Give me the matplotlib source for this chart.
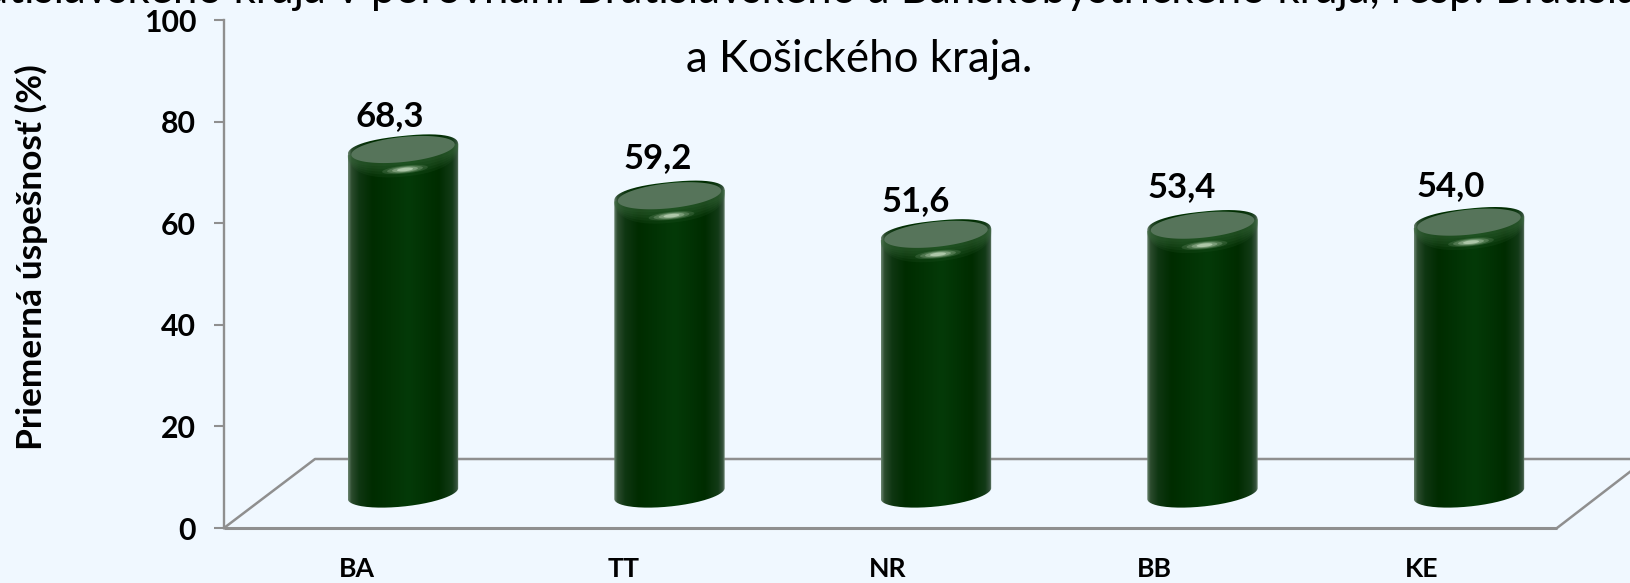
import numpy as np
import matplotlib

matplotlib.use("Agg")

import matplotlib.pyplot as plt
from matplotlib.colors import LinearSegmentedColormap
from matplotlib.patches import PathPatch, Polygon
from matplotlib.path import Path

plt.rcParams["font.family"] = ["Lato", "DejaVu Sans"]

categories = ["BA", "TT", "NR", "BB", "KE"]
values = [68.3, 59.2, 51.6, 53.4, 54.0]
value_labels = ["68,3", "59,2", "51,6", "53,4", "54,0"]
y_ticks = [0, 20, 40, 60, 80, 100]

title_top = "Bratislavského kraja v porovnaní Bratislavského a Banskobystrického kraja, resp. Bratislavského"
title_bottom = "a Košického kraja."
y_title = "Priemerná úspešnosť (%)"

W, H = 1631, 583
BG = "#f0f8ff"
GRID = "#8f8f8f"
LEFT, BOTTOM_PX, TOP_PX = 224, 528, 20
PX_CAT = 266.5       # px per category
PX_VAL = (BOTTOM_PX - TOP_PX) / 100
X0_PX = 403          # centre of first cylinder
FLOOR = 6.8          # cylinders stand this far back on the floor (value units)
TILT = np.radians(6)


def px_x(px):
    return (px - X0_PX) / PX_CAT


def px_y(px):
    return (BOTTOM_PX - px) / PX_VAL


def ellipse_pts(a, b, t, power=1.0):
    # tilted ellipse (power < 1 gives squarer shoulders), px offsets, y up
    x = a * np.sign(np.cos(t)) * np.abs(np.cos(t)) ** power
    y = b * np.sign(np.sin(t)) * np.abs(np.sin(t)) ** power
    return x * np.cos(TILT) - y * np.sin(TILT), x * np.sin(TILT) + y * np.cos(TILT)


def to_data(i, level, dx, dy):
    return i + dx / PX_CAT, level + dy / PX_VAL


side_cmap = LinearSegmentedColormap.from_list(
    "side",
    [
        (0.00, "#6b8470"),
        (0.03, "#2c4c2e"),
        (0.10, "#0f3612"),
        (0.22, "#002c00"),
        (0.55, "#043a08"),
        (0.82, "#002c00"),
        (0.94, "#123a16"),
        (0.98, "#33503a"),
        (1.00, "#6b8470"),
    ],
)


def cylinder(ax, i, v):
    top = FLOOR + v - 3 / PX_VAL
    half = 55.5
    ux, uy = ellipse_pts(half, 13.5, np.linspace(np.pi, 0, 100), power=0.85)
    lx, ly = ellipse_pts(half, 13, np.linspace(0, -np.pi, 100))
    xs_top, ys_top = to_data(i, top, ux, uy)
    xs_bot, ys_bot = to_data(i, FLOOR, lx, ly)
    xs = np.r_[xs_top, xs_bot]
    ys = np.r_[ys_top, ys_bot]
    patch = PathPatch(Path(np.column_stack([xs, ys])), fc="none", ec="none", zorder=3)
    ax.add_patch(patch)
    grad = np.linspace(0, 1, 256).reshape(1, -1)
    im = ax.imshow(
        grad,
        cmap=side_cmap,
        aspect="auto",
        interpolation="bilinear",
        extent=(xs.min(), xs.max(), ys.min(), ys.max()),
        zorder=3,
    )
    im.set_clip_path(patch)

    # soft lighter bevel under the cap, only on the lower side
    t = np.linspace(np.pi, 2 * np.pi, 80)
    for b in [27, 24, 21, 18, 15]:
        ex, ey = ellipse_pts(56, b, t, power=0.85)
        px, py = to_data(i, top, ex, ey)
        poly = Polygon(np.column_stack([px, py]), fc="#3a6a3c", ec="none", alpha=0.14, zorder=4)
        ax.add_patch(poly)
        poly.set_clip_path(patch)

    t = np.linspace(0, 2 * np.pi, 120)
    ex, ey = ellipse_pts(52, 12.5, t)
    px, py = to_data(i, top, ex, ey)
    ax.add_patch(Polygon(np.column_stack([px, py]), fc="#56745a", ec="none", zorder=5))

    # small highlight just under the cap
    for a, b, al in [(23, 4.0, 0.12), (18, 3.2, 0.2), (13, 2.5, 0.3), (8, 1.7, 0.5)]:
        ex, ey = ellipse_pts(a, b, t)
        px, py = to_data(i, top - 20 / PX_VAL, ex + 2, ey)
        ax.add_patch(Polygon(np.column_stack([px, py]), fc="#dff0d8", ec="none", alpha=al, zorder=6))


fig = plt.figure(figsize=(W / 100, H / 100), dpi=100, facecolor=BG)
ax = fig.add_axes([LEFT / W, 1 - BOTTOM_PX / H, (W - LEFT) / W, (BOTTOM_PX - TOP_PX) / H])
ax.set_facecolor(BG)

for i, v in enumerate(values):
    cylinder(ax, i, v)

# 3D floor
ax.plot([px_x(LEFT), px_x(1557)], [0, 0], color=GRID, lw=2.2, zorder=2, clip_on=False, solid_capstyle="butt")
ax.plot([px_x(LEFT), px_x(315), px_x(W)], [0, px_y(459), px_y(459)], color=GRID, lw=1.8, zorder=1, clip_on=False)
ax.plot([px_x(1557), px_x(W)], [0, px_y(471)], color=GRID, lw=1.8, zorder=1, clip_on=False)

ax.set_xlim(px_x(LEFT), px_x(W))
ax.set_ylim(0, 100)
ax.set_yticks(y_ticks)
ax.set_xticks([])
ax.tick_params(axis="y", length=7, width=1.5, color=GRID, pad=13, labelsize=21.8)
for lab in ax.get_yticklabels():
    lab.set_fontweight("bold")
for name in ["top", "right", "bottom"]:
    ax.spines[name].set_visible(False)
ax.spines["left"].set_color(GRID)
ax.spines["left"].set_linewidth(1.7)

label_shift = [-13, -12, -20, -21, -18]
label_gap = [30, 35, 30, 35, 33]
for i, (v, txt) in enumerate(zip(values, value_labels)):
    ax.annotate(
        txt,
        xy=(i, FLOOR + v),
        xytext=(label_shift[i], label_gap[i]),
        textcoords="offset pixels",
        ha="center",
        va="center",
        fontsize=25,
        fontweight="bold",
        zorder=7,
    )

cat_shift = [-46, -46, -48, -48, -47]
for i, c in enumerate(categories):
    ax.annotate(
        c,
        xy=(i, 0),
        xytext=(cat_shift[i], -41),
        textcoords="offset pixels",
        ha="center",
        va="center",
        fontsize=19.2,
        fontweight="bold",
        annotation_clip=False,
    )

fig.text(31 / W, 1 - 257 / H, y_title, rotation=90, ha="center", va="center", fontsize=25.4, fontweight="bold")
fig.text(859 / W, 1 - 72 / H, title_bottom, ha="center", va="baseline", fontsize=31.6)
fig.text(859 / W, 1 - 3 / H, title_top, ha="center", va="baseline", fontsize=31.6)

fig.savefig("out.png", dpi=100, facecolor=BG)
